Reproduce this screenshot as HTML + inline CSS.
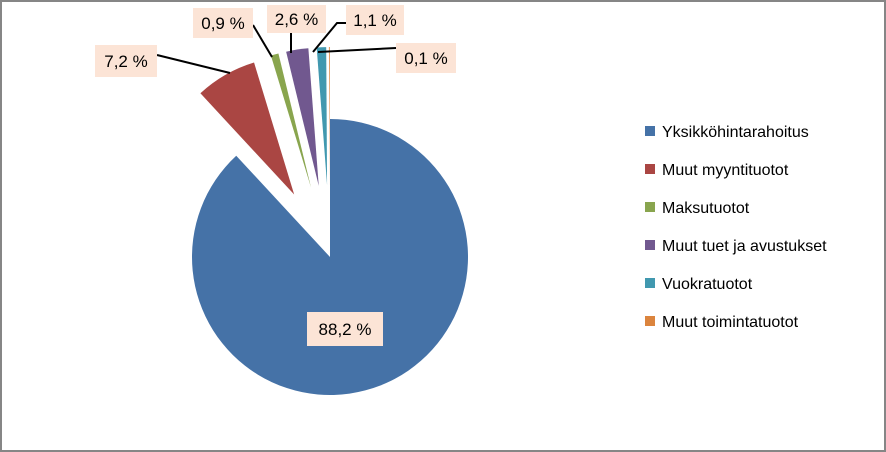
<!DOCTYPE html>
<html><head><meta charset="utf-8"><style>
body{margin:0;background:#fff}
#c{position:relative;width:886px;height:452px;box-sizing:border-box;border:2px solid #868686;font-family:"Liberation Sans",Calibri,sans-serif}
svg{position:absolute;left:-2px;top:-2px}
</style></head><body>
<div id="c">
<svg id="s" width="886" height="452" xmlns="http://www.w3.org/2000/svg"></svg>
</div>
<script>
const categories=["Yksikköhintarahoitus","Muut myyntituotot","Maksutuotot","Muut tuet ja avustukset","Vuokratuotot","Muut toimintatuotot"];
const values=[88.2,7.2,0.9,2.6,1.1,0.1];
const explodeFlags=[0,1,1,1,1,1];
const colors=["#4572a7","#aa4643","#89a54e","#71588f","#4198af","#db843d"];
const labelBoxes=[[307,312,76,34],[95,45,62,32],[193,8,60,30],[267,5,59,28],[346,5,58,30],[396,43,60,30]];
const leaders=[null,[[157,55],[230,73]],[[253,25],[272,57]],[[291,33],[291,53]],[[346,23],[337,23],[313,52]],[[396,48],[318,52]]];
const NS="http://www.w3.org/2000/svg";
const svg=document.getElementById('s');
const cx=330,cy=257,R=138,EX=72;
const total=values.reduce((a,b)=>a+b,0);
function mk(t,a){const e=document.createElementNS(NS,t);for(const k in a)e.setAttribute(k,a[k]);return e;}
function pt(x,y,r,a){return [x+r*Math.sin(a),y-r*Math.cos(a)];}
let acc=0;
values.forEach((v,i)=>{
  const a0=acc/total*2*Math.PI;acc+=v;const a1=acc/total*2*Math.PI;
  const mid=(a0+a1)/2;const d=explodeFlags[i]?EX:0;
  const ox=cx+d*Math.sin(mid),oy=cy-d*Math.cos(mid);
  const p0=pt(ox,oy,R,a0),p1=pt(ox,oy,R,a1);
  const large=(a1-a0)>Math.PI?1:0;
  const p=mk('path',{d:`M${ox},${oy}L${p0[0]},${p0[1]}A${R},${R} 0 ${large} 1 ${p1[0]},${p1[1]}Z`,fill:colors[i]});
  
  
  svg.appendChild(p);
});
values.forEach((v,i)=>{
  if(leaders[i]){
    const l=mk('polyline',{points:leaders[i].map(q=>q.join(',')).join(' '),fill:'none',stroke:'#000','stroke-width':2});
    
    
    svg.appendChild(l);
  }
  const b=labelBoxes[i];
  const r=mk('rect',{x:b[0],y:b[1],width:b[2],height:b[3],fill:'#fce4d6'});
  
  
  svg.appendChild(r);
  const t=mk('text',{x:b[0]+b[2]/2,y:b[1]+b[3]/2+6,'text-anchor':'middle','font-size':17,fill:'#000','font-family':'Liberation Sans, sans-serif'});
  t.textContent=v.toFixed(1).replace('.',',')+' %';
  
  
  svg.appendChild(t);
});
categories.forEach((c,i)=>{
  const y=131+i*38;
  const m=mk('rect',{x:645,y:y-5,width:10,height:10,fill:colors[i]});
  
  
  svg.appendChild(m);
  const t=mk('text',{x:662,y:y+6,'font-size':16,fill:'#000','font-family':'Liberation Sans, sans-serif'});
  t.textContent=c;
  
  
  svg.appendChild(t);
});
</script>
</body></html>
